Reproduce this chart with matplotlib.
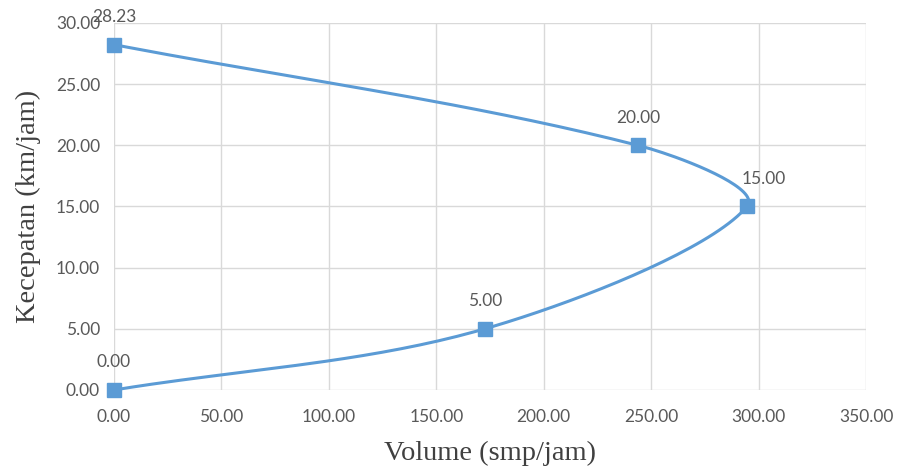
import numpy as np
import matplotlib
matplotlib.use("Agg")
import matplotlib.pyplot as plt

# -----------------------------
# data
# -----------------------------
volume = [0.0, 172.6, 294.6, 243.8, 0.0]      # smp/jam
speed = [0.0, 5.0, 15.0, 20.0, 28.23]         # km/jam
point_labels = ["0.00", "5.00", "15.00", "20.00", "28.23"]
x_ticks = [0, 50, 100, 150, 200, 250, 300, 350]
y_ticks = [0, 5, 10, 15, 20, 25, 30]

line_color = "#5B9BD5"
text_color = "#595959"
grid_color = "#D9D9D9"


def smooth_curve(ax, xs, ys, n=40):
    # excel-like smoothed line: cubic bezier, tangents weighted by the
    # neighbouring segment lengths (done in screen space, mapped back)
    pts = ax.transData.transform(np.column_stack([xs, ys]))
    out = []
    for i in range(len(pts) - 1):
        p0 = pts[i - 1] if i > 0 else pts[i]
        p1 = pts[i]
        p2 = pts[i + 1]
        p3 = pts[i + 2] if i + 2 < len(pts) else pts[i + 1]
        d01 = np.hypot(*(p1 - p0))
        d12 = np.hypot(*(p2 - p1))
        d23 = np.hypot(*(p3 - p2))
        c1 = p1 + (p2 - p0) * d12 / max(d01 + d12, 1e-9) / 3
        c2 = p2 - (p3 - p1) * d12 / max(d12 + d23, 1e-9) / 3
        t = np.linspace(0, 1, n)[:, None]
        seg = ((1 - t) ** 3) * p1 + 3 * ((1 - t) ** 2) * t * c1 \
            + 3 * (1 - t) * t ** 2 * c2 + t ** 3 * p2
        out.append(seg if i == 0 else seg[1:])
    out = np.vstack(out)
    return ax.transData.inverted().transform(out)


fig, ax = plt.subplots(figsize=(8.99, 4.73), dpi=100)
fig.subplots_adjust(left=0.1268, right=0.9633, top=0.9514, bottom=0.1755)

ax.set_xlim(0, 350)
ax.set_ylim(0, 30)
ax.set_xticks(x_ticks)
ax.set_yticks(y_ticks)
ax.xaxis.set_major_formatter(matplotlib.ticker.FormatStrFormatter("%.2f"))
ax.yaxis.set_major_formatter(matplotlib.ticker.FormatStrFormatter("%.2f"))

for s in ax.spines.values():
    s.set_visible(False)
ax.grid(True, color=grid_color, lw=1)
ax.set_axisbelow(True)
ax.tick_params(length=0, labelcolor=text_color, labelsize=12.5)
ax.tick_params(axis="x", pad=14)
ax.tick_params(axis="y", pad=10)
for lab in ax.get_xticklabels() + ax.get_yticklabels():
    lab.set_family("Lato")

curve = smooth_curve(ax, volume, speed)
ax.plot(curve[:, 0], curve[:, 1], color=line_color, lw=2.2, clip_on=False,
        solid_capstyle="round")
ax.plot(volume, speed, "s", color=line_color, markersize=10, clip_on=False,
        zorder=3)

# data labels above each point (the 15.00 one sits up and to the right)
for x, y, lab in zip(volume, speed, point_labels):
    dx = 12 if lab == "15.00" else 0
    ax.annotate(lab, (x, y), xytext=(dx, 20), textcoords="offset points",
                ha="center", va="center", fontsize=12.5, color=text_color,
                family="Lato", annotation_clip=False)

ax.set_xlabel("Volume (smp/jam)", family="Liberation Serif", fontsize=20.5,
              color="#404040", labelpad=11)
ax.set_ylabel("Kecepatan (km/jam)", family="Liberation Serif", fontsize=20.5,
              color="#404040", labelpad=11)

fig.savefig("out.png", dpi=100)
